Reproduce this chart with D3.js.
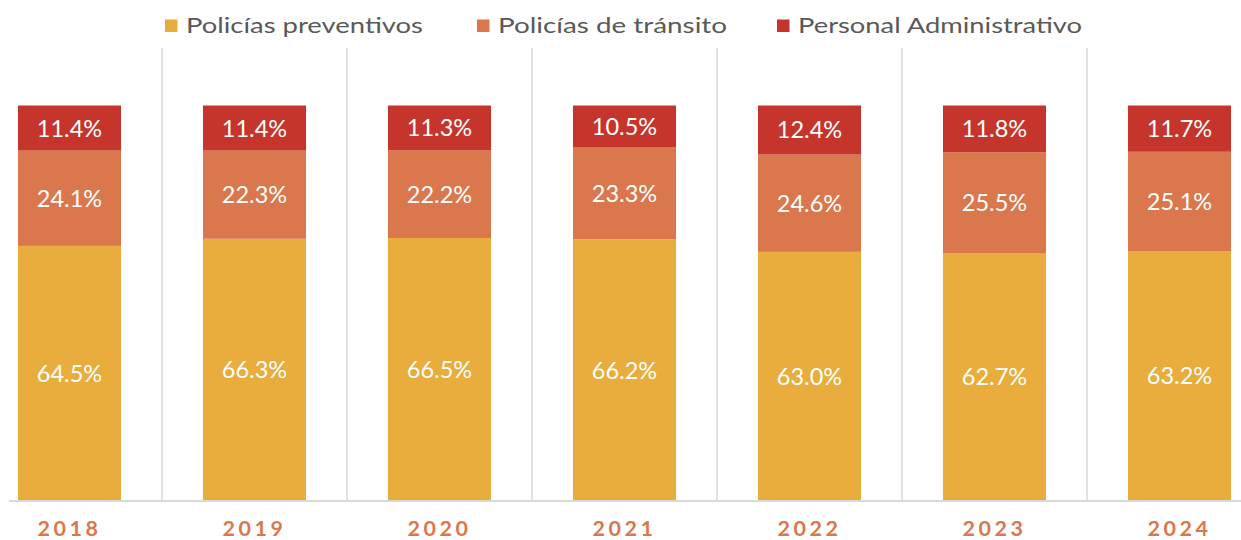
<!DOCTYPE html>
<html>
<head>
<meta charset="utf-8">
<script src="https://cdn.jsdelivr.net/npm/d3@7"></script>
<style>
  body { margin: 0; background: #fff; }
  svg { display: block; }
</style>
</head>
<body>
<div id="chart-area"></div>
<script>

// SVG Size
var width = 1241,
    height = 540;

// Data
var years = ["2018", "2019", "2020", "2021", "2022", "2023", "2024"];
var seriesNames = ["Policías preventivos", "Policías de tránsito", "Personal Administrativo"];
var preventivos = [64.5, 66.3, 66.5, 66.2, 63.0, 62.7, 63.2];
var transito = [24.1, 22.3, 22.2, 23.3, 24.6, 25.5, 25.1];
var administrativo = [11.4, 11.4, 11.3, 10.5, 12.4, 11.8, 11.7];
var colors = ["#E8AD3C", "#DA774D", "#C5352C"];

var rows = years.map(function (y, i) {
    return { year: y, p: preventivos[i], t: transito[i], a: administrativo[i] };
});

var svg = d3.select("#chart-area")
    .append("svg")
    .attr("width", width)
    .attr("height", height);

var baseY = 501,
    topY = 105.5;

var xScale = d3.scaleBand()
    .domain(years)
    .range([-23, 1272])
    .paddingInner(0.443)
    .paddingOuter(0.2215);

var yScale = d3.scaleLinear()
    .domain([0, 100])
    .range([baseY, topY]);

// separators between categories
var step = xScale.step();
svg.selectAll("line.sep")
    .data(years.slice(1))
    .enter()
    .append("line")
    .attr("class", "sep")
    .attr("x1", function (d) { return xScale(d) - (step - xScale.bandwidth()) / 2; })
    .attr("x2", function (d) { return xScale(d) - (step - xScale.bandwidth()) / 2; })
    .attr("y1", 48)
    .attr("y2", baseY)
    .attr("stroke", "#d9d9d9")
    .attr("stroke-width", 1.5);

var stack = d3.stack().keys(["p", "t", "a"]);
var layers = stack(rows);

var groups = svg.selectAll("g.layer")
    .data(layers)
    .enter()
    .append("g")
    .attr("class", "layer")
    .attr("fill", function (d, i) { return colors[i]; });

groups.selectAll("rect")
    .data(function (d) { return d; })
    .enter()
    .append("rect")
    .attr("x", function (d) { return xScale(d.data.year); })
    .attr("width", xScale.bandwidth())
    .attr("y", function (d) { return yScale(d[1]); })
    .attr("height", function (d) { return yScale(d[0]) - yScale(d[1]); });

// value labels
groups.selectAll("text")
    .data(function (d) {
        return d.map(function (v) { return { v: v, key: d.key }; });
    })
    .enter()
    .append("text")
    .attr("x", function (d) { return xScale(d.v.data.year) + xScale.bandwidth() / 2; })
    .attr("y", function (d) { return (yScale(d.v[0]) + yScale(d.v[1])) / 2; })
    .attr("dy", "0.36em")
    .attr("text-anchor", "middle")
    .attr("fill", "#fff")
    .style("font-family", "Lato, sans-serif")
    .style("font-size", "23.5px")
    .text(function (d) { return d.v.data[d.key].toFixed(1) + "%"; });

// x axis
var xAxis = d3.axisBottom(xScale).tickSize(0).tickPadding(0);
var axisG = svg.append("g")
    .attr("class", "axis x-axis")
    .attr("transform", "translate(0," + baseY + ")")
    .call(xAxis);
axisG.select(".domain").remove();
axisG.append("line")
    .attr("x1", 9)
    .attr("x2", width)
    .attr("stroke", "#d9d9d9")
    .attr("stroke-width", 2);
axisG.selectAll(".tick text")
    .attr("y", 34.5)
    .attr("dy", 0)
    .attr("fill", "#DA774D")
    .style("font-family", "Lato, sans-serif")
    .style("font-weight", "bold")
    .style("font-size", "21.5px")
    .style("letter-spacing", "3.5px");

// legend
var legendX = [165, 477, 777];
var legendEnd = [423, 727, 1082];
var legend = svg.selectAll("g.legend")
    .data(seriesNames)
    .enter()
    .append("g")
    .attr("class", "legend")
    .attr("transform", function (d, i) { return "translate(" + legendX[i] + ",0)"; });

legend.append("rect")
    .attr("y", 19.5)
    .attr("width", 12.5)
    .attr("height", 12.5)
    .attr("fill", function (d, i) { return colors[i]; });

legend.append("text")
    .attr("x", 21)
    .attr("y", 32.5)
    .attr("fill", "#595959")
    .style("font-family", "Lato, sans-serif")
    .style("font-size", "22px")
    .attr("textLength", function (d, i) { return legendEnd[i] - legendX[i] - 21; })
    .attr("lengthAdjust", "spacingAndGlyphs")
    .text(function (d) { return d; });

</script>
</body>
</html>
